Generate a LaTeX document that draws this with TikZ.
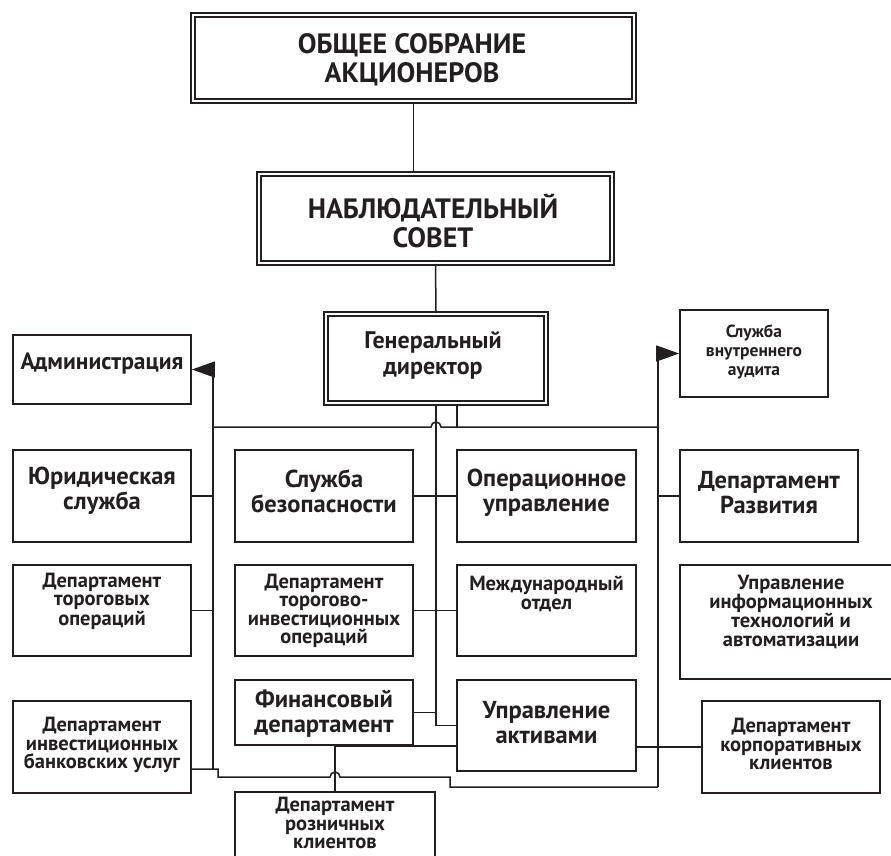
\documentclass[tikz,border=0pt]{standalone}
\usepackage{fontspec}
\setmainfont{PT Sans}
\usetikzlibrary{arrows.meta}
\definecolor{ink}{RGB}{35,31,32}
\tikzset{
  box/.style={draw=ink, line width=1.8pt, fill=white, inner sep=0pt,
    minimum width=178pt, minimum height=92pt},
  dbox/.style={box, double, double distance=2.4pt, line width=1.6pt},
  lbl/.style={align=center, inner sep=0pt, text=ink},
  hugetext/.style={lbl, font=\fontsize{28}{29}\selectfont\bfseries},
  bigtext/.style={lbl, font=\fontsize{24.5}{25}\selectfont\bfseries},
  midtext/.style={lbl, font=\fontsize{24}{26}\selectfont\bfseries},
  smalltext/.style={lbl, font=\fontsize{20.5}{18.5}\selectfont\bfseries},
  tinytext/.style={lbl, font=\fontsize{17.5}{19}\selectfont\bfseries},
  trunk/.style={line width=2.6pt},
  arrowto/.style={-{Triangle[length=23pt,width=16pt]}}
}
\begin{document}
\begin{tikzpicture}[x=1pt, y=-1pt, line width=1.5pt, color=ink]
  \useasboundingbox (0,0) rectangle (891,856);
  \clip (0,0) rectangle (891,856);
  \fill[white] (0,0) rectangle (891,856);

  % top of the chart
  \node[dbox, minimum width=441pt, minimum height=86pt] (gsm) at (413.5,58) {};
  \node[hugetext] (gsm-t) at (412,60) {ОБЩЕЕ СОБРАНИЕ\\АКЦИОНЕРОВ};
  \node[dbox, minimum width=353pt, minimum height=89pt] (nab) at (435.5,218.5) {};
  \node[hugetext] (nab-t) at (433,221) {НАБЛЮДАТЕЛЬНЫЙ\\СОВЕТ};
  \node[dbox, minimum width=220pt, minimum height=89pt] (gen) at (436,358.5) {};
  \node[midtext] (gen-t) at (433,355) {Генеральный\\директор};

  % boxes near the director
  \node[box, minimum height=69pt] (adm) at (102,369.5) {};
  \node[lbl, font=\fontsize{23.5}{25}\selectfont\bfseries] (adm-t) at (102,364) {Администрация};
  \node[box, minimum width=148pt, minimum height=87pt] (aud) at (754,353.5) {};
  \node[tinytext] (aud-t) at (754,352) {Служба\\внутреннего\\аудита};

  % first row
  \node[box] (jur) at (102,496) {};
  \node[bigtext] (jur-t) at (102,491) {Юридическая\\служба};
  \node[box] (bez) at (324,496) {};
  \node[bigtext] (bez-t) at (324,491) {Служба\\безопасности};
  \node[box, minimum width=179pt] (opr) at (546.5,496) {};
  \node[bigtext] (opr-t) at (546.5,493) {Операционное\\управление};
  \node[box] (raz) at (769,496) {};
  \node[bigtext] (raz-t) at (769,493) {Департамент\\Развития};

  % second row
  \node[box, minimum height=91pt] (trg) at (102,610.5) {};
  \node[smalltext] (trg-t) at (102,601) {Департамент\\тороговых\\операций};
  \node[box, minimum height=91pt] (tiv) at (324,610.5) {};
  \node[smalltext] (tiv-t) at (324,611) {Департамент\\торогово-\\инвестиционных\\операций};
  \node[box, minimum width=179pt, minimum height=91pt] (mez) at (546.5,610.5) {};
  \node[smalltext] (mez-t) at (546.5,594) {Международный\\отдел};
  \node[box, minimum width=222pt, minimum height=114pt] (itc) at (791,622) {};
  \node[smalltext] (itc-t) at (791,612) {Управление\\информационных\\технологий и\\автоматизации};

  % third row
  \node[box, minimum height=65pt] (fin) at (324,712.5) {};
  \node[bigtext] (fin-t) at (324,714) {Финансовый\\департамент};
  \node[box, minimum width=179pt, minimum height=91pt] (akt) at (546.5,725.5) {};
  \node[bigtext] (akt-t) at (546.5,723) {Управление\\активами};
  \node[box] (ibu) at (102,747) {};
  \node[smalltext] (ibu-t) at (102,745) {Департамент\\инвестиционных\\банковских услуг};
  \node[box] (kor) at (791,747) {};
  \node[smalltext] (kor-t) at (791,744) {Департамент\\корпоративных\\клиентов};
  \node[box, minimum width=200pt, minimum height=88pt] (roz) at (335,836) {};
  \node[smalltext] (roz-t) at (335,823) {Департамент\\розничных\\клиентов};

  % junction points
  \coordinate (busL) at (213,427);
  \coordinate (busR) at (658,427);
  \coordinate (ibuJ) at (213,769);
  \coordinate (loopR) at (658,787);

  % connectors
  \draw (gsm.south) -- (gsm.south |- nab.north);
  \draw (nab.south) -- (gen.north);
  \draw[trunk] (gen.south) -- (gen.south |- akt.west);
  \draw (gen.south |- akt.west) -- (akt.west);
  \draw (bez.east) -- (opr.west);
  \draw (tiv.east) -- (mez.west);
  \draw (fin.east) -- (fin.east -| gen.south);
  \draw ([xshift=21pt]gen.south) -- ([xshift=21pt]gen.south |- busL);
  \draw (busL) -- (431,427) arc[start angle=180, end angle=360, radius=5] -- (busR);
  \draw[arrowto] (ibuJ) |- (adm.east);
  \draw[arrowto] (loopR) |- (aud.west);
  \draw (jur.east) -- (jur.east -| busL);
  \draw (trg.east) -- (trg.east -| busL);
  \draw (raz.west) -- (raz.west -| busR);
  \draw (akt.east |- kor.west) -- (kor.west);
  \draw ([yshift=-22pt]ibu.east) -- (218,769) -- (218,777) -- (330,777)
    arc[start angle=180, end angle=360, radius=5] -- (450,777) -- (450,787) -- (loopR);
  \draw (roz.north) -- (roz.north |- fin.south) -- (akt.west |- fin.south);
\end{tikzpicture}
\end{document}
